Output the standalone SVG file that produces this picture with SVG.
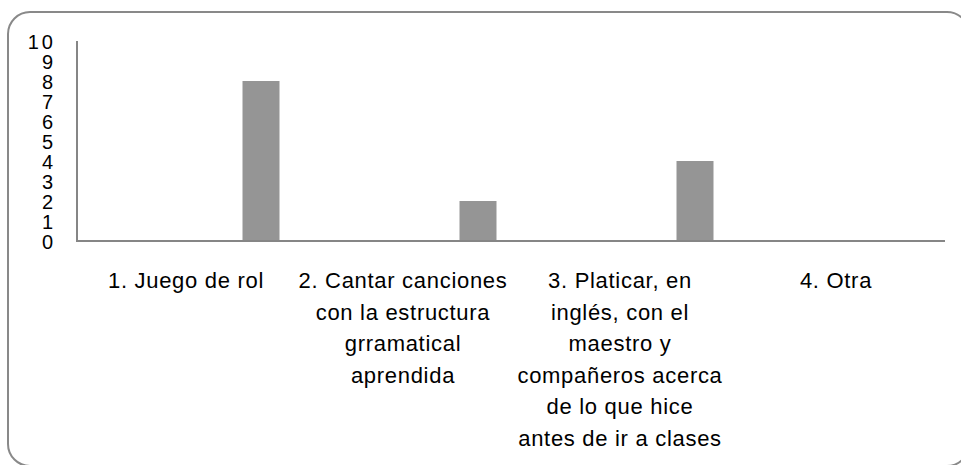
<svg xmlns="http://www.w3.org/2000/svg" width="961" height="465" viewBox="0 0 961 465">
  <style>
    .frame { fill: #ffffff; stroke: #898989; stroke-width: 2; }
    .axis { stroke: #868686; stroke-width: 2; fill: none; }
    .bar { fill: #959595; }
    .ytick { font-family: "Liberation Sans", Arial, sans-serif; font-size: 20px; fill: #000; text-anchor: end; }
    .cat { font-family: "Liberation Sans", Arial, sans-serif; font-size: 22px; letter-spacing: 0.7px; fill: #000; text-anchor: middle; }
  </style>
  <rect x="0" y="0" width="961" height="465" fill="#ffffff"/>
  <rect id="frame" class="frame" x="8" y="12" width="961" height="454" rx="22" ry="22"/>

  <g id="y-axis-labels">
    <text class="ytick" x="53" y="249">0</text>
    <text class="ytick" x="53" y="229">1</text>
    <text class="ytick" x="53" y="209">2</text>
    <text class="ytick" x="53" y="189">3</text>
    <text class="ytick" x="53" y="169">4</text>
    <text class="ytick" x="53" y="149">5</text>
    <text class="ytick" x="53" y="129">6</text>
    <text class="ytick" x="53" y="109">7</text>
    <text class="ytick" x="53" y="89">8</text>
    <text class="ytick" x="53" y="69">9</text>
    <text class="ytick" x="56" y="49" letter-spacing="3">10</text>
  </g>

  <g id="bars">
    <rect id="bar-1" class="bar" x="242.5" y="81" width="37" height="159"/>
    <rect id="bar-2" class="bar" x="459.5" y="201" width="37" height="39"/>
    <rect id="bar-3" class="bar" x="676.5" y="161" width="37" height="79"/>
  </g>

  <g id="axes">
    <line class="axis" x1="77" y1="41" x2="77" y2="242"/>
    <line class="axis" x1="76" y1="241" x2="945" y2="241"/>
  </g>

  <g id="category-1">
    <text class="cat" x="186" y="288">1. Juego de rol</text>
  </g>
  <g id="category-2">
    <text class="cat" x="403" y="288">2. Cantar canciones</text>
    <text class="cat" x="403" y="319.5">con la estructura</text>
    <text class="cat" x="403" y="351">grramatical</text>
    <text class="cat" x="403" y="382.5">aprendida</text>
  </g>
  <g id="category-3">
    <text class="cat" x="620" y="288">3. Platicar, en</text>
    <text class="cat" x="620" y="319.5">inglés, con el</text>
    <text class="cat" x="620" y="351">maestro y</text>
    <text class="cat" x="620" y="382.5">compañeros acerca</text>
    <text class="cat" x="620" y="414">de lo que hice</text>
    <text class="cat" x="620" y="445.5">antes de ir a clases</text>
  </g>
  <g id="category-4">
    <text class="cat" x="836" y="288">4. Otra</text>
  </g>
</svg>
